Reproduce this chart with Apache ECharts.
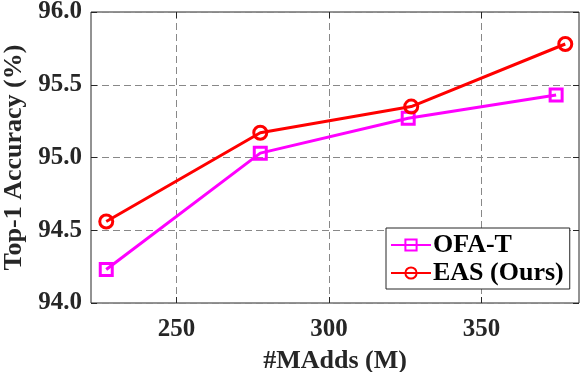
<!DOCTYPE html>
<html lang="en">
<head>
    <meta charset="UTF-8">
    <title>Top-1 Accuracy vs MAdds</title>
    <style>html,body{margin:0;padding:0;background:#fff;}</style>
</head>
<body>
<div id="main" style="width:584px;height:372px;"></div>

<script src="https://cdn.jsdelivr.net/npm/echarts@6/dist/echarts.min.js"></script>
<script>
    // values
    var ofaMadds = [227, 277.5, 326, 374.5];
    var ofaAcc = [94.23, 95.03, 95.27, 95.43];
    var easMadds = [227, 277.5, 327, 377.5];
    var easAcc = [94.56, 95.17, 95.35, 95.78];
    var xTicks = [250, 300, 350];
    var seriesNames = ['OFA-T', 'EAS (Ours)'];

    function pairs(xs, ys) {
        return xs.map(function (x, i) { return [x, ys[i]]; });
    }

    var font = 'Liberation Serif, Times New Roman, serif';
    var axisColor = '#262626';

    var myChart = echarts.init(document.getElementById('main'));
    myChart.setOption({
        animation: false,
        grid: {
            left: 91, right: 5, top: 12, bottom: 69,
            outerBoundsMode: 'none', containLabel: false,
            show: true, borderColor: axisColor, borderWidth: 1
        },
        legend: {
            data: seriesNames,
            orient: 'vertical',
            left: 386, top: 228,
            itemWidth: 40, itemHeight: 14, itemGap: 2,
            padding: [4, 6, 3, 4],
            backgroundColor: '#fff',
            borderColor: axisColor, borderWidth: 1, borderRadius: 0,
            textStyle: {fontFamily: font, fontWeight: 'bold', fontSize: 26, color: '#000', padding: [0, 0, 0, -3]}
        },
        xAxis: [{
            type: 'value', min: 222, max: 382,
            name: '#MAdds (M)', nameLocation: 'middle', nameGap: 45,
            nameTextStyle: {fontFamily: font, fontWeight: 'bold', fontSize: 26, color: '#262626'},
            axisLine: {show: false},
            axisTick: {inside: true, length: 6, customValues: xTicks, lineStyle: {color: axisColor}},
            axisLabel: {customValues: xTicks, margin: 14, fontFamily: font, fontWeight: 'bold', fontSize: 25, color: '#262626'},
            splitLine: {show: true, lineStyle: {type: [7, 4], color: '#888', width: 1}}
        }, {
            type: 'value', min: 222, max: 382, position: 'top',
            axisLine: {show: false},
            axisTick: {inside: true, length: 6, customValues: xTicks, lineStyle: {color: axisColor}},
            axisLabel: {show: false},
            splitLine: {show: false}
        }],
        yAxis: [{
            type: 'value', min: 94, max: 96, interval: 0.5,
            name: 'Top-1 Accuracy (%)', nameLocation: 'middle', nameGap: 57,
            nameTextStyle: {fontFamily: font, fontWeight: 'bold', fontSize: 26, color: '#262626'},
            axisLine: {show: false},
            axisTick: {inside: true, length: 6, lineStyle: {color: axisColor}},
            axisLabel: {
                margin: 9, fontFamily: font, fontWeight: 'bold', fontSize: 25, color: '#262626',
                formatter: function (v) { return v.toFixed(1); }
            },
            splitLine: {show: true, lineStyle: {type: [7, 4], color: '#888', width: 1}}
        }, {
            type: 'value', min: 94, max: 96, interval: 0.5, position: 'right',
            axisLine: {show: false},
            axisTick: {inside: true, length: 6, lineStyle: {color: axisColor}},
            axisLabel: {show: false},
            splitLine: {show: false}
        }],
        series: [{
            name: seriesNames[0],
            type: 'line',
            data: pairs(ofaMadds, ofaAcc),
            symbol: 'rect', symbolSize: 12,
            lineStyle: {color: '#ff00ff', width: 3},
            itemStyle: {color: 'rgba(255,255,255,0)', borderColor: '#ff00ff', borderWidth: 3},
            z: 3
        }, {
            name: seriesNames[1],
            type: 'line',
            data: pairs(easMadds, easAcc),
            symbol: 'circle', symbolSize: 13,
            lineStyle: {color: '#ff0000', width: 3},
            itemStyle: {color: 'rgba(255,255,255,0)', borderColor: '#ff0000', borderWidth: 3},
            z: 4
        }]
    });
</script>
</body>
</html>
